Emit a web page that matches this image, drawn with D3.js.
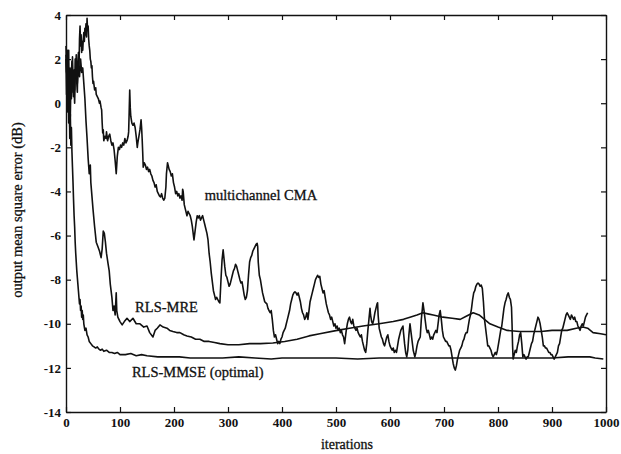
<!DOCTYPE html>
<html>
<head>
<meta charset="utf-8">
<script src="https://cdn.jsdelivr.net/npm/d3@7"></script>
<style>
  html, body { margin: 0; padding: 0; background: #fff; }
  svg { display: block; }
  text { font-family: "Liberation Serif", "Times New Roman", serif; fill: #111; }
</style>
</head>
<body>
<script>
// Output mean square error (dB) versus iterations for three equalizers.
const xTicks = [0, 100, 200, 300, 400, 500, 600, 700, 800, 900, 1000];
const yTicks = [4, 2, 0, -2, -4, -6, -8, -10, -12, -14];

// Multichannel constant-modulus algorithm: [iteration, dB]
const cma = [[0,2.0],[1,0.4],[2,1.9],[3,-0.4],[4,1.1],[5,2.4],[6,0.1],[7,-1.1],[8,0.7],[9,1.6],[10,0.2],[11,1.0],[12,2.1],[13,1.2],[14,0.3],[15,1.5],[16,0.6],[17,2.0],[18,1.2],[19,2.2],[20,0.9],[21,0.5],[22,1.8],[23,2.3],[24,1.4],[25,2.9],[26,3.5],[27,2.6],[28,3.1],[29,2.3],[30,2.8],[31,2.4],[32,2.9],[33,3.2],[34,2.8],[35,3.4],[36,3.1],[37,3.6],[38,3.0],[39,3.85],[40,3.3],[41,3.5],[42,2.9],[43,2.6],[44,2.4],[45,2.0],[46,1.9],[47,1.6],[48,1.7],[49,1.2],[50,0.9],[51,1.0],[53,0.6],[55,0.7],[56,0.4],[58,0.3],[60,0.2],[62,0.0],[63,0.1],[65,-0.2],[66,-0.3],[67,-0.9],[68,-1.35],[69,-1.2],[70,-1.7],[72,-1.5],[74,-1.6],[75,-1.3],[77,-1.7],[79,-1.5],[81,-1.4],[83,-1.7],[85,-1.9],[87,-1.8],[89,-2.1],[91,-2.6],[93,-3.2],[94,-2.8],[95,-2.4],[97,-2.0],[99,-2.1],[101,-1.9],[103,-2.0],[105,-1.8],[107,-1.9],[109,-1.6],[111,-1.8],[113,-1.7],[115,-1.5],[116,-1.3],[117,-0.4],[118,0.6],[119,-0.2],[120,-0.6],[122,-0.9],[124,-1.0],[126,-0.9],[128,-1.1],[130,-1.5],[132,-2.0],[133,-1.8],[135,-1.5],[137,-1.2],[139,-0.75],[140,-1.1],[141,-1.6],[142,-2.2],[143,-2.9],[145,-2.7],[147,-2.8],[149,-3.0],[151,-2.9],[153,-3.1],[155,-3.0],[157,-3.2],[159,-3.3],[161,-3.5],[163,-3.6],[165,-3.8],[167,-3.7],[169,-4.0],[171,-4.1],[173,-4.2],[175,-4.25],[177,-4.1],[179,-4.3],[181,-4.4],[183,-4.3],[185,-3.8],[186,-3.2],[188,-2.7],[189,-2.8],[191,-3.0],[193,-3.1],[195,-3.3],[197,-3.2],[199,-3.6],[201,-3.8],[203,-4.1],[205,-4.0],[207,-4.2],[209,-4.1],[211,-4.3],[213,-4.2],[215,-4.4],[216,-3.9],[217,-4.0],[219,-4.6],[221,-4.8],[223,-5.0],[224,-5.1],[226,-4.9],[228,-5.0],[230,-5.1],[232,-5.3],[234,-5.6],[236,-6.0],[237,-6.2],[239,-5.8],[241,-5.4],[243,-5.1],[245,-5.2],[247,-5.1],[249,-5.3],[251,-5.2],[253,-5.1],[255,-5.3],[257,-5.5],[259,-5.7],[261,-5.9],[263,-6.2],[265,-6.8],[267,-7.2],[269,-7.7],[271,-8.1],[273,-8.5],[275,-8.7],[277,-8.9],[279,-8.8],[281,-8.9],[283,-9.0],[285,-9.05],[287,-8.0],[289,-7.1],[291,-6.65],[292,-6.9],[294,-7.4],[296,-7.8],[298,-7.9],[300,-8.1],[302,-8.3],[304,-8.2],[306,-8.0],[308,-7.8],[310,-7.6],[312,-7.5],[314,-7.3],[316,-7.4],[318,-7.6],[320,-7.8],[322,-8.0],[324,-8.15],[326,-8.1],[328,-8.4],[330,-8.7],[332,-8.9],[334,-8.8],[336,-8.5],[338,-7.8],[340,-7.2],[342,-7.0],[344,-6.9],[346,-6.7],[348,-6.6],[350,-6.5],[352,-6.4],[354,-6.35],[355,-6.5],[356,-7.2],[358,-7.8],[360,-8.0],[362,-8.3],[364,-8.6],[366,-8.8],[368,-9.0],[370,-9.05],[372,-9.1],[374,-9.3],[376,-9.4],[378,-9.5],[380,-9.4],[382,-9.8],[384,-10.3],[386,-10.6],[388,-10.5],[390,-10.7],[392,-10.9],[394,-10.8],[396,-10.9],[398,-10.7],[400,-10.6],[402,-10.4],[404,-10.3],[406,-10.2],[408,-10.0],[410,-9.8],[412,-9.6],[414,-9.4],[416,-9.1],[418,-8.9],[420,-8.7],[422,-8.6],[424,-8.55],[426,-8.6],[428,-8.7],[430,-8.6],[432,-8.8],[434,-9.0],[436,-9.3],[438,-9.5],[440,-9.6],[442,-9.8],[444,-9.7],[446,-9.5],[448,-9.8],[450,-9.4],[452,-9.0],[454,-8.8],[456,-8.6],[458,-8.4],[460,-8.2],[462,-8.0],[464,-7.9],[466,-7.8],[468,-7.9],[470,-7.85],[472,-8.2],[474,-8.4],[476,-8.6],[478,-8.5],[480,-8.8],[482,-9.1],[484,-9.3],[486,-9.5],[488,-9.6],[490,-9.8],[492,-9.7],[494,-9.9],[496,-10.1],[498,-10.0],[500,-10.2],[502,-10.1],[504,-10.3],[506,-10.2],[508,-10.4],[510,-10.3],[512,-10.5],[514,-10.6],[516,-10.9],[517,-10.7],[519,-10.3],[521,-10.0],[523,-9.8],[525,-9.7],[527,-9.9],[529,-10.0],[531,-9.8],[533,-10.1],[535,-10.2],[537,-10.3],[539,-10.2],[541,-10.4],[543,-10.5],[545,-10.6],[547,-10.5],[549,-10.8],[551,-11.0],[553,-11.2],[555,-11.3],[557,-10.9],[559,-10.3],[561,-9.8],[563,-9.3],[564,-9.6],[566,-9.9],[568,-10.0],[570,-9.8],[572,-9.5],[574,-9.3],[576,-9.1],[577,-9.05],[578,-9.6],[580,-10.2],[582,-10.4],[584,-10.6],[586,-10.7],[588,-10.9],[590,-11.0],[592,-10.8],[594,-10.6],[596,-10.5],[598,-10.8],[600,-11.0],[602,-11.1],[604,-11.2],[606,-11.1],[608,-11.3],[610,-11.2],[612,-11.3],[614,-11.0],[616,-10.7],[618,-10.5],[620,-10.3],[622,-10.2],[624,-10.1],[625,-10.4],[627,-10.9],[629,-11.3],[631,-11.5],[633,-11.2],[635,-10.5],[637,-10.0],[639,-10.4],[641,-10.8],[643,-11.2],[645,-11.4],[646,-11.5],[648,-11.3],[650,-11.0],[652,-10.8],[654,-10.7],[656,-10.6],[658,-9.8],[660,-9.3],[661,-9.05],[663,-9.4],[665,-9.8],[667,-10.2],[669,-10.4],[671,-10.3],[673,-10.5],[675,-10.7],[677,-10.6],[679,-10.7],[681,-10.5],[683,-10.4],[685,-10.3],[687,-10.4],[689,-10.0],[691,-9.6],[693,-9.4],[695,-9.8],[697,-10.3],[699,-10.6],[701,-10.7],[703,-10.8],[705,-10.8],[707,-10.9],[709,-11.0],[711,-11.0],[713,-11.2],[715,-11.5],[717,-11.8],[719,-12.0],[721,-12.1],[723,-11.9],[725,-11.6],[727,-11.4],[729,-11.2],[731,-11.1],[733,-11.0],[735,-10.8],[737,-10.7],[739,-10.5],[741,-10.4],[743,-10.4],[745,-10.1],[747,-9.8],[749,-9.6],[751,-9.3],[753,-8.9],[755,-8.6],[757,-8.5],[759,-8.3],[761,-8.2],[763,-8.15],[765,-8.2],[767,-8.3],[769,-8.25],[771,-8.4],[773,-9.0],[775,-9.8],[777,-10.2],[779,-10.6],[781,-11.0],[783,-11.0],[785,-11.1],[787,-11.2],[789,-11.4],[791,-11.5],[793,-11.4],[795,-11.3],[797,-11.4],[799,-11.2],[801,-10.9],[803,-10.6],[805,-10.3],[807,-10.1],[809,-9.7],[811,-9.3],[813,-9.05],[815,-8.9],[817,-8.7],[819,-8.6],[821,-8.8],[823,-8.9],[825,-9.25],[826,-10.0],[827,-11.0],[828,-11.6],[830,-11.4],[832,-11.2],[834,-11.3],[836,-11.0],[838,-10.8],[840,-10.5],[842,-10.4],[844,-10.9],[846,-11.5],[848,-11.4],[850,-11.5],[852,-11.6],[854,-11.5],[856,-11.5],[858,-11.3],[860,-11.1],[862,-10.9],[864,-10.8],[866,-10.5],[868,-10.3],[870,-10.1],[872,-9.9],[874,-9.7],[876,-9.8],[878,-10.0],[880,-10.3],[882,-10.6],[884,-11.0],[886,-11.0],[888,-11.1],[890,-11.1],[892,-11.2],[894,-11.3],[896,-11.3],[898,-11.4],[900,-11.4],[902,-11.5],[904,-11.6],[906,-11.5],[908,-11.4],[910,-11.3],[912,-11.0],[914,-10.9],[916,-10.6],[918,-10.3],[920,-10.2],[922,-10.0],[924,-9.8],[926,-9.6],[928,-9.5],[930,-9.6],[932,-9.7],[934,-9.8],[936,-9.6],[938,-9.7],[940,-9.8],[942,-9.7],[944,-9.9],[946,-9.9],[948,-10.1],[950,-10.2],[952,-10.3],[954,-10.1],[956,-10.0],[958,-10.1],[960,-9.9],[962,-9.7],[964,-9.6],[966,-9.5]];

// RLS minimum residual error
const rlsMre = [[0,2.2],[2,1.0],[3,2.4],[5,0.3],[6,1.6],[8,-0.6],[9,0.8],[11,1.9],[13,0.5],[14,1.3],[16,0.0],[17,1.1],[19,1.8],[21,0.9],[23,1.7],[25,1.2],[27,2.0],[29,1.4],[31,1.6],[33,0.9],[35,0.2],[37,-0.8],[39,-1.6],[41,-2.5],[43,-3.2],[45,-2.8],[46,-3.6],[48,-4.2],[50,-4.8],[53,-5.6],[56,-6.3],[59,-6.5],[62,-6.7],[65,-7.0],[67,-6.6],[69,-5.8],[71,-5.9],[73,-6.3],[75,-6.8],[78,-7.3],[80,-7.6],[82,-8.2],[85,-8.8],[87,-9.4],[89,-9.2],[91,-9.6],[93,-8.6],[94,-9.4],[96,-9.7],[100,-9.9],[104,-10.05],[108,-9.9],[113,-9.75],[118,-9.9],[124,-9.75],[130,-10.0],[137,-10.0],[144,-10.15],[150,-10.1],[155,-10.4],[161,-10.6],[165,-10.3],[169,-10.2],[174,-10.05],[180,-10.15],[187,-10.2],[192,-10.3],[198,-10.35],[205,-10.4],[211,-10.4],[218,-10.5],[224,-10.55],[232,-10.6],[240,-10.7],[248,-10.7],[256,-10.8],[265,-10.8],[275,-10.85],[285,-10.9],[300,-10.95],[320,-10.95],[340,-10.9],[360,-10.9],[383,-10.87],[405,-10.8],[428,-10.7],[450,-10.55],[470,-10.45],[502,-10.3],[525,-10.2],[550,-10.1],[580,-10.0],[606,-9.9],[625,-9.8],[637,-9.7],[650,-9.6],[661,-9.5],[670,-9.55],[680,-9.6],[698,-9.7],[715,-9.75],[730,-9.8],[742,-9.65],[754,-9.5],[765,-9.6],[775,-9.8],[785,-10.0],[800,-10.15],[817,-10.3],[840,-10.35],[860,-10.35],[880,-10.35],[900,-10.3],[928,-10.3],[945,-10.2],[957,-10.15],[966,-10.2],[976,-10.4],[990,-10.45],[1000,-10.5]];

// RLS minimum mean square error (optimal)
const rlsMmse = [[0,2.6],[1,1.4],[2,2.3],[3,0.1],[4,1.2],[5,-0.9],[6,0.5],[7,-1.6],[8,-0.5],[9,-1.9],[10,-1.1],[11,-2.2],[12,-2.9],[13,-3.6],[14,-4.4],[15,-5.1],[16,-5.6],[17,-6.3],[18,-6.8],[19,-7.2],[20,-7.6],[21,-7.9],[22,-8.2],[23,-8.5],[24,-8.8],[25,-9.1],[26,-8.9],[27,-9.4],[28,-9.2],[29,-9.7],[30,-9.4],[31,-9.8],[32,-9.6],[33,-10.0],[35,-10.3],[37,-10.2],[39,-10.5],[41,-10.6],[43,-10.8],[46,-10.9],[49,-11.0],[52,-11.05],[55,-11.1],[58,-11.05],[61,-11.15],[64,-11.2],[67,-11.15],[70,-11.25],[75,-11.2],[80,-11.3],[85,-11.3],[90,-11.35],[95,-11.3],[100,-11.4],[110,-11.4],[120,-11.35],[130,-11.45],[140,-11.4],[150,-11.45],[170,-11.5],[190,-11.5],[210,-11.5],[230,-11.55],[260,-11.55],[290,-11.55],[320,-11.5],[350,-11.55],[380,-11.6],[400,-11.55],[430,-11.55],[460,-11.55],[500,-11.55],[540,-11.6],[580,-11.55],[620,-11.55],[660,-11.55],[700,-11.55],[740,-11.55],[780,-11.55],[820,-11.55],[860,-11.55],[900,-11.55],[930,-11.5],[950,-11.5],[970,-11.5],[980,-11.55],[995,-11.6]];

// Annotation text, anchored at [iteration, dB]
const curveLabels = [
  { text: "multichannel CMA", at: [257, -4.39] },
  { text: "RLS-MRE", at: [128, -9.46] },
  { text: "RLS-MMSE (optimal)", at: [122, -12.42] }
];

const W = 621, H = 454;
const margin = { left: 66, right: 15, top: 15, bottom: 42 };

const svg = d3.select("body").append("svg")
  .attr("width", W).attr("height", H);

const x = d3.scaleLinear().domain([0, 1000]).range([margin.left, W - margin.right]);
const y = d3.scaleLinear().domain([-14, 4]).range([H - margin.bottom, margin.top]);

const ink = "#111";

// Frame with inward ticks on all four sides
function styleAxis(g) {
  g.select(".domain").attr("stroke", ink).attr("stroke-width", 1.4);
  g.selectAll(".tick line").attr("stroke", ink).attr("stroke-width", 1.2);
  g.selectAll("text").attr("fill", ink)
    .style("font-family", '"Liberation Serif", "Times New Roman", serif')
    .style("font-weight", "bold").style("font-size", "13px");
}

svg.append("g")
  .attr("transform", `translate(0,${y(-14)})`)
  .call(d3.axisBottom(x).tickValues(xTicks).tickFormat(d => String(d))
    .tickSizeInner(-5).tickSizeOuter(0).tickPadding(6))
  .call(styleAxis);

svg.append("g")
  .attr("transform", `translate(0,${y(4)})`)
  .call(d3.axisTop(x).tickValues(xTicks).tickFormat("")
    .tickSizeInner(-5).tickSizeOuter(0))
  .call(styleAxis);

svg.append("g")
  .attr("transform", `translate(${x(0)},0)`)
  .call(d3.axisLeft(y).tickValues(yTicks).tickFormat(d => String(d))
    .tickSizeInner(-5).tickSizeOuter(0).tickPadding(5))
  .call(styleAxis);

svg.append("g")
  .attr("transform", `translate(${x(1000)},0)`)
  .call(d3.axisRight(y).tickValues(yTicks).tickFormat("")
    .tickSizeInner(-5).tickSizeOuter(0))
  .call(styleAxis);

// Curves
const line = d3.line().x(d => x(d[0])).y(d => y(d[1]));
[rlsMmse, rlsMre, cma].forEach(series => {
  svg.append("path")
    .datum(series)
    .attr("d", line)
    .attr("fill", "none")
    .attr("stroke", ink)
    .attr("stroke-width", 1.6)
    .attr("stroke-linejoin", "round");
});

// Curve annotations
svg.selectAll("text.curve-label")
  .data(curveLabels)
  .join("text")
  .attr("class", "curve-label")
  .attr("x", d => x(d.at[0]))
  .attr("y", d => y(d.at[1]))
  .style("font-size", "14.5px")
  .attr("stroke", ink)
  .attr("stroke-width", 0.3)
  .text(d => d.text);

// Axis titles
svg.append("text")
  .attr("x", 347)
  .attr("y", 449)
  .attr("text-anchor", "middle")
  .style("font-size", "14px")
  .attr("stroke", ink)
  .attr("stroke-width", 0.3)
  .text("iterations");

svg.append("text")
  .attr("transform", `translate(22,210) rotate(-90)`)
  .attr("text-anchor", "middle")
  .style("font-size", "14.5px")
  .attr("stroke", ink)
  .attr("stroke-width", 0.3)
  .text("output mean square error (dB)");
</script>
</body>
</html>
